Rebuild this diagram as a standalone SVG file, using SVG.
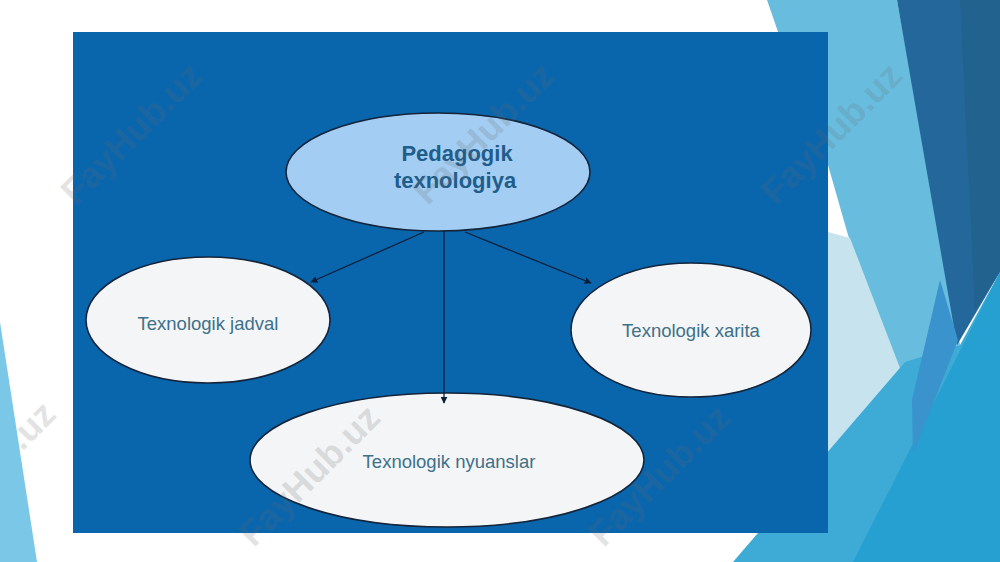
<svg xmlns="http://www.w3.org/2000/svg" width="1000" height="562" viewBox="0 0 1000 562">
<defs>
<style>
.node{fill:#f3f5f7;stroke:#14243a;stroke-width:1.6}
.top{fill:#a3cdf3;stroke:#14243a;stroke-width:1.6}
.lbl{font-family:"Liberation Sans",Arial,sans-serif;font-size:18.5px;fill:#3f7088;text-anchor:middle}
.ttl{font-family:"Liberation Sans",Arial,sans-serif;font-size:22px;font-weight:bold;fill:#1f5d8a;text-anchor:middle}
.edge{stroke:#0c1f3a;stroke-width:1.3;fill:none;marker-end:url(#ah)}
.wm{font-family:"Liberation Sans",Arial,sans-serif;font-size:36px;font-weight:bold;fill:#6a6a6a;fill-opacity:0.2;text-anchor:middle}
</style>
<marker id="ah" viewBox="0 0 10 10" refX="9" refY="5" markerWidth="7" markerHeight="7" orient="auto" markerUnits="userSpaceOnUse">
<path d="M0,0 L10,5 L0,10 z" fill="#0c1f3a"/>
</marker>
</defs>
<rect width="1000" height="562" fill="#ffffff"/>
<g id="decor">
<polygon points="0,322 37,562 0,562" fill="#7bc7e7"/>
<polygon points="767,0 897,0 960,345 900,370 848,235 828,165 805,110" fill="#68bddf"/>
<polygon points="828,232 850,238 900,368 828,455" fill="#c6e3ee"/>
<polygon points="897,0 1000,0 1000,272 957,345" fill="#24679a"/>
<polygon points="960,0 1000,0 1000,272 975,310" fill="#22628f"/>
<polygon points="733,562 905,362 960,345 1000,272 1000,562" fill="#3eaad6"/>
<polygon points="1000,272 853,562 1000,562" fill="#25a0d1"/>
<polygon points="940,280 958,340 913,455 912,400" fill="#3a93cc"/>
</g>
<rect id="panel" x="73" y="32" width="755" height="501" fill="#0966ad"/>
<g id="node-pedagogik">
<ellipse class="top" cx="438" cy="172" rx="152" ry="59"/>
<text class="ttl" x="457" y="161">Pedagogik</text>
<text class="ttl" x="455" y="188">texnologiya</text>
</g>
<g id="node-jadval">
<ellipse class="node" cx="208" cy="320" rx="122" ry="63"/>
<text class="lbl" x="208" y="330">Texnologik jadval</text>
</g>
<g id="node-xarita">
<ellipse class="node" cx="691" cy="330" rx="120" ry="67"/>
<text class="lbl" x="691" y="337">Texnologik xarita</text>
</g>
<g id="node-nyuanslar">
<ellipse class="node" cx="447" cy="460" rx="197" ry="67"/>
<text class="lbl" x="449" y="468">Texnologik nyuanslar</text>
</g>
<g id="connectors">
<line class="edge" x1="424" y1="232" x2="311" y2="282"/>
<line class="edge" x1="465" y1="232" x2="591" y2="283"/>
<line class="edge" x1="444" y1="231" x2="444" y2="403"/>
</g>
<g id="watermarks">
<text class="wm" transform="translate(140,142) rotate(-45)">FayHub.uz</text>
<text class="wm" transform="translate(492,142) rotate(-45)">FayHub.uz</text>
<text class="wm" transform="translate(840,142) rotate(-45)">FayHub.uz</text>
<text class="wm" transform="translate(40,434) rotate(-45)">.uz</text>
<text class="wm" transform="translate(318,484) rotate(-45)">FayHub.uz</text>
<text class="wm" transform="translate(668,484) rotate(-45)">FayHub.uz</text>
</g>
</svg>
